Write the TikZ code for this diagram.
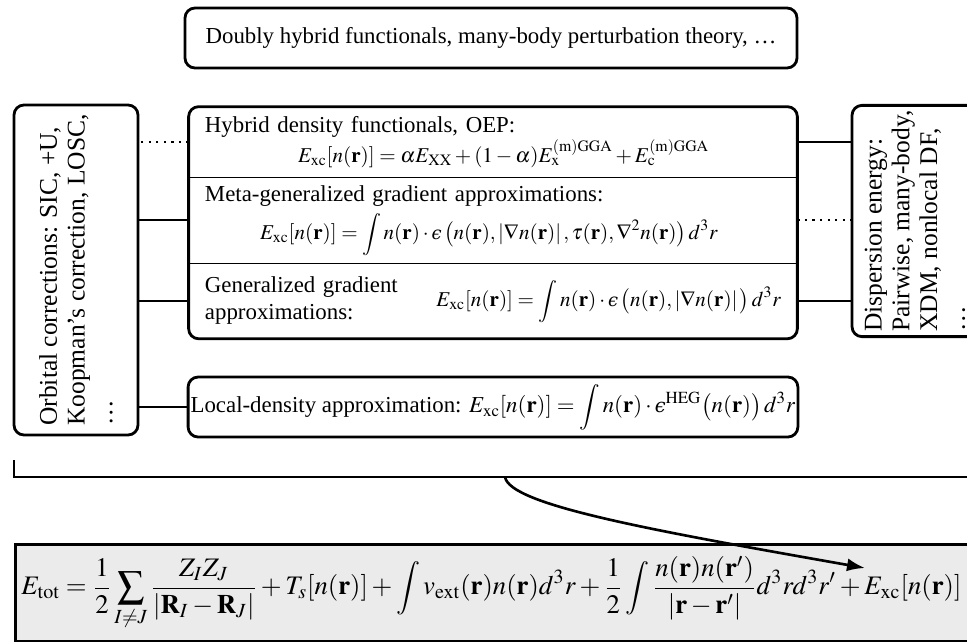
\documentclass[12pt,tikz,border=0pt]{standalone}
\usepackage{amsmath}
\usepackage{mathptmx}
\usepackage{graphicx}
\usepackage{fontspec}
\setmainfont{Liberation Serif}
\newfontfamily\lunfont{DejaVu Serif}[Scale=0.85]
\usetikzlibrary{arrows.meta, positioning, fit}
\definecolor{eqgray}{RGB}{235,235,235}
\newcommand{\bvr}{\mathbf{r}}
\newcommand{\Exc}{E_{\mathrm{xc}}[n(\bvr)]}
\newcommand{\lep}{\text{\lunfont\itshape ϵ}}
\newcommand{\mainsize}{\fontsize{13}{15.5}\selectfont}
\newcommand{\eqsize}{\fontsize{12}{14}\selectfont}
\newcommand{\sidesize}{\fontsize{14.5}{15.8}\selectfont}

\begin{document}
\begin{tikzpicture}[
    x=0.2mm, y=-0.2mm,
    tier/.style={draw, rounded corners=2mm, line width=1.6pt, inner sep=0pt, font=\mainsize},
    section/.style={minimum width=121.6mm, text width=115.2mm, inner xsep=3.2mm, inner ysep=0pt, align=left, font=\mainsize},
    sidebox/.style={draw, rounded corners=2mm, line width=1.6pt, rotate=90, align=left, inner sep=1mm, font=\sidesize},
    eqbox/.style={draw, fill=eqgray, line width=1.6pt, minimum height=19.4mm, text width=200mm, inner xsep=1.2mm, align=left},
    link/.style={line width=1.2pt},
    dotlink/.style={line width=1.3pt, dash pattern=on 1.3pt off 3pt},
    divider/.style={line width=0.6pt},
    arrow/.style={-{Latex[length=3.6mm,width=2.6mm]}, line width=1.5pt}
]
\useasboundingbox (0,0) rectangle (967,641);
\clip (0,0) rectangle (967,641);

% Top rung
\node[tier, minimum width=122.4mm, minimum height=12mm] (dbh) at (491,38)
    {Doubly hybrid functionals, many-body perturbation theory, …};

% Stacked rungs
\node[section, minimum height=14mm] (hyb) at (493,142)
    {Hybrid density functionals, OEP:\\
     \hspace*{18.6mm}{\eqsize$\Exc = \alpha E_{\mathrm{XX}} + (1-\alpha)E_{\mathrm{x}}^{\mathrm{(m)GGA}} + E_{\mathrm{c}}^{\mathrm{(m)GGA}}$}};
\node[section, minimum height=17mm, below=0pt of hyb] (meta)
    {Meta-generalized gradient approximations:\\[3pt]
     \hspace*{11mm}{\eqsize$\displaystyle \Exc = \int n(\bvr)\cdot\lep\,\big(n(\bvr), |\nabla n(\bvr)|\,, \tau(\bvr), \nabla^2 n(\bvr)\big)\, d^3r$}};
\node[section, minimum height=15mm, below=0pt of meta] (gga)
    {\begin{tabular}{@{}l@{}}Generalized gradient\\approximations:\end{tabular}\hfill
     {\eqsize$\displaystyle \Exc = \int n(\bvr)\cdot\lep\,\big(n(\bvr), |\nabla n(\bvr)|\,\big)\, d^3r$}};
\node[tier, fit=(hyb)(meta)(gga)] (stack) {};
\draw[divider] (hyb.south west) -- (hyb.south east);
\draw[divider] (meta.south west) -- (meta.south east);

% Bottom rung
\node[tier, minimum width=121.6mm, minimum height=12mm, inner xsep=0.5mm] (lda) at (493,407)
    {Local-density approximation: $\displaystyle \Exc = \int n(\bvr)\cdot\lep^{\mathrm{HEG}}\big(n(\bvr)\big)\, d^3r$};

% Side boxes
\node[sidebox, minimum width=66mm, minimum height=24.8mm] (orb) at (76,270)
    {Orbital corrections: SIC, +U,\\Koopman's correction, LOSC,\\…};
\node[sidebox, minimum width=45.6mm, minimum height=25.2mm] (disp) at (915,221)
    {Dispersion energy:\\Pairwise, many-body,\\XDM, nonlocal DF,\\…};

% Connections
\draw[dotlink] (hyb.west) -- (hyb.west -| orb.south);
\foreach \s in {meta, gga, lda}
    \draw[link] (\s.west) -- (\s.west -| orb.south);
\draw[link] (hyb.east) -- (hyb.east -| disp.north);
\draw[dotlink] (meta.east) -- (meta.east -| disp.north);
\draw[link] (gga.east) -- (gga.east -| disp.north);

% Total energy
\node[eqbox, anchor=north west] (etot) at (14,543)
    {\resizebox{188mm}{!}{$\displaystyle E_{\mathrm{tot}} = \frac{1}{2}\sum_{I\neq J}\frac{Z_I Z_J}{|\mathbf{R}_I-\mathbf{R}_J|} + T_s[n(\bvr)] + \int v_{\mathrm{ext}}(\bvr)n(\bvr)d^3r + \frac{1}{2}\int\frac{n(\bvr)n(\bvr')}{|\bvr-\bvr'|}d^3r d^3r' + \Exc$}};

% Bracket and arrow
\coordinate (brkL) at (14,460);
\coordinate (brkR) at (980,477);
\draw[link, line width=1.6pt] (brkL) |- (brkR);
\coordinate (fork) at (505,477);
\coordinate (tip) at (865,568);
\draw[arrow] (fork) .. controls (510,505) and (650,530) .. (tip);
\end{tikzpicture}
\end{document}
